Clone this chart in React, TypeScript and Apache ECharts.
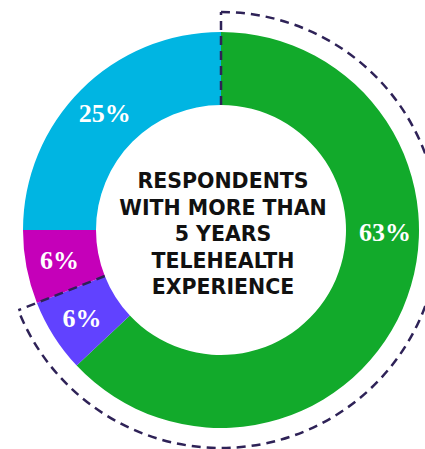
import React, { useEffect, useRef } from "react";
import * as echarts from "echarts";

const categories = ["More than 5 years A", "Group B", "Group C", "Group D"];
const values = [63, 6, 6, 25];
const colors = ["#12aa2b", "#6142ff", "#c500b9", "#00b5e2"];
const centerLines = ["RESPONDENTS", "WITH MORE THAN", "5 YEARS", "TELEHEALTH", "EXPERIENCE"];
const highlightedCount = 2;

export default function App() {
  const ref = useRef<HTMLDivElement>(null);
  useEffect(() => {
    document.body.style.margin = "0";
    if (!ref.current) return;
    const chart = echarts.init(ref.current, null, { renderer: "svg" });
    const cx = 221;
    const cy = 230;
    const r0 = 125;
    const r1 = 198;
    const rd = 218;
    const total = values.reduce((a, b) => a + b, 0);
    const frac = values.slice(0, highlightedCount).reduce((a, b) => a + b, 0) / total;
    const startA = -Math.PI / 2;
    const endA = startA + frac * Math.PI * 2;
    const dashStyle = { stroke: "#2e2257", lineWidth: 2.5, lineDash: [9, 6], fill: null };
    chart.setOption({
      animation: false,
      series: [
        {
          type: "pie",
          center: [cx, cy],
          radius: [r0, r1],
          startAngle: 90,
          clockwise: true,
          silent: true,
          label: {
            show: true,
            position: "inside",
            formatter: "{c}%",
            color: "#ffffff",
            fontFamily: "Liberation Serif",
            fontWeight: "bold",
            fontSize: 26,
          },
          labelLine: { show: false },
          itemStyle: { borderWidth: 0 },
          data: values.map((v, i) => ({
            name: categories[i],
            value: v,
            itemStyle: { color: colors[i] },
            label: i === 0 ? { offset: [13, -63] } : {},
          })),
        },
      ],
      graphic: [
        {
          type: "arc",
          shape: { cx, cy, r: rd, startAngle: startA, endAngle: endA, clockwise: true },
          style: dashStyle,
          z: 10,
        },
        {
          type: "line",
          shape: {
            x1: cx + r0 * Math.cos(startA),
            y1: cy + r0 * Math.sin(startA),
            x2: cx + rd * Math.cos(startA),
            y2: cy + rd * Math.sin(startA),
          },
          style: dashStyle,
          z: 10,
        },
        {
          type: "line",
          shape: {
            x1: cx + r0 * Math.cos(endA),
            y1: cy + r0 * Math.sin(endA),
            x2: cx + rd * Math.cos(endA),
            y2: cy + rd * Math.sin(endA),
          },
          style: dashStyle,
          z: 10,
        },
        {
          type: "text",
          x: 223,
          y: 234,
          style: {
            text: centerLines.join("\n"),
            fill: "#111111",
            fontFamily: "DejaVu Sans",
            fontWeight: "bold",
            fontSize: 20.5,
            lineHeight: 26.5,
            align: "center",
            verticalAlign: "middle",
          },
          z: 10,
        },
      ],
    });
    return () => chart.dispose();
  }, []);
  return <div ref={ref} style={{ width: 425, height: 449 }} />;
}
